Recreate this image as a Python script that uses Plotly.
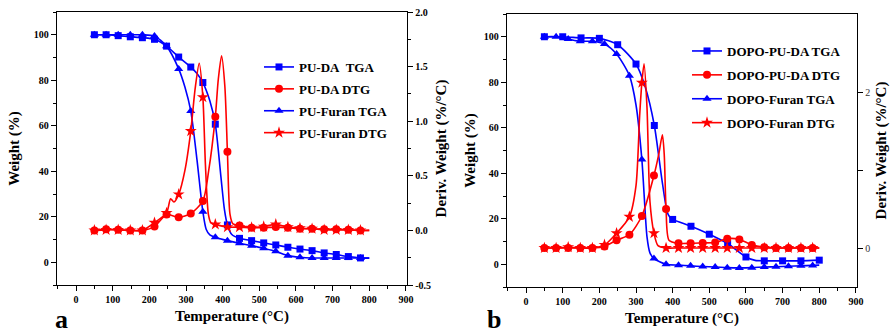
import plotly.graph_objects as go

BLUE = "#0000FF"
RED = "#FF0000"
FONT = "Liberation Serif"

# ---------------- Panel a data ----------------
temp_a = [50, 82, 115, 148, 181, 214, 247, 280, 313, 346, 380, 413,
          446, 479, 512, 545, 578, 611, 644, 677, 710, 743, 776]
pu_da_tga = [100, 100, 99.6, 99.1, 98.7, 98, 95, 90.2, 85.8, 79, 60.7, 16.4,
             10.5, 9.5, 8.5, 7.6, 6.6, 5.8, 5.1, 4.1, 3.4, 2.5, 1.9]
pu_da_tga_xt = [330, 365, 395, 405, 425, 800]
pu_da_tga_xv = [83, 71, 38, 23, 12.2, 1.8]

pu_furan_tga = [100, 100, 100, 100, 100, 99.4, 95, 85, 66.5, 22.2, 11, 9.5,
                8.3, 7.3, 6.1, 4.8, 2.9, 2.2, 1.9, 1.9, 1.9, 1.9, 1.9]
pu_furan_tga_xt = [297, 330, 355, 365, 800]
pu_furan_tga_xv = [77, 45, 14.5, 12, 1.9]

pu_da_dtg = [0, 0.01, 0.005, 0, 0, 0.035, 0.145, 0.12, 0.155, 0.27, 1.04, 0.72,
             0.045, 0.025, 0.025, 0.03, 0.025, 0.015, 0.015, 0.01, 0.01, 0.005, 0]
pu_da_dtg_xt = [362, 388, 397, 406, 420, 428, 800]
pu_da_dtg_xv = [0.55, 1.38, 1.6, 1.32, 0.15, 0.06, 0]

pu_furan_dtg = [0, 0.005, 0.005, 0, 0, 0.07, 0.16, 0.33, 0.91, 1.22, 0.055, 0.03,
                0.03, 0.025, 0.035, 0.055, 0.03, 0.02, 0.015, 0.005, 0.005, 0.005, 0]
pu_furan_dtg_xt = [258, 267, 297, 325, 336, 353, 361, 368, 800]
pu_furan_dtg_xv = [0.29, 0.26, 0.55, 1.3, 1.53, 0.6, 0.15, 0.07, 0]

# ---------------- Panel b data ----------------
temp_b33 = [50, 82, 115, 148, 181, 214, 247, 282, 316, 349, 382, 416,
            449, 482, 516, 549, 582, 616, 650, 682, 716, 750, 782]
temp_b50 = [50, 100, 150, 200, 250, 300, 350, 400, 450, 500, 550, 600,
            650, 700, 750, 800]

dopo_pu_da_tga = [100, 100, 99.5, 99.3, 96.5, 88, 61, 19.7, 16.7, 13.2, 9.1, 3.2,
                  1.5, 1.5, 1.5, 1.8]
dopo_pu_da_tga_xt = [325, 370, 385, 392, 625]
dopo_pu_da_tga_xv = [78, 38, 23, 20.8, 1.7]

dopo_furan_tga = [100, 100, 99, 98, 98, 96.8, 92.4, 82.9, 46, 2.5, 0, -0.4,
                  -0.7, -1, -1.2, -1.5, -1.6, -1.5, -1.2, -1.1, -0.9, -0.7, -0.5]
dopo_furan_tga_xt = [300, 330, 338, 800]
dopo_furan_tga_xv = [70, 12, 5, -0.4]

dopo_pu_da_dtg = [0, 0, 0, 0, 0, 0.02, 0.1, 0.17, 0.41, 0.93, 0.5, 0.06,
                  0.06, 0.065, 0.07, 0.12, 0.11, 0.04, 0.01, 0, 0, 0, 0]
dopo_pu_da_dtg_xt = [362, 372, 377, 390, 800]
dopo_pu_da_dtg_xv = [1.2, 1.45, 1.2, 0.1, 0]

dopo_furan_dtg = [0, 0, 0.01, 0, 0, 0.04, 0.19, 0.4, 2.12, 0.19, 0, 0,
                  0, 0, 0, 0, 0, 0, 0, 0, 0, 0, 0]
dopo_furan_dtg_xt = [300, 310, 322, 330, 338, 360, 800]
dopo_furan_dtg_xv = [0.8, 1.7, 2.36, 1.8, 0.6, 0.03, 0]


def merged(t, v, xt, xv):
    pts = sorted(list(zip(t, v)) + list(zip(xt, xv)))
    return [p[0] for p in pts], [p[1] for p in pts]


fig = go.Figure()


def add_series(name, t, v, xt, xv, color, symbol, msize, xaxis, yaxis, legend):
    lx, ly = merged(t, v, xt, xv)
    fig.add_trace(go.Scatter(x=lx, y=ly, mode="lines", xaxis=xaxis, yaxis=yaxis,
                             line=dict(color=color, width=1.6, shape="spline", smoothing=0.7),
                             showlegend=False, hoverinfo="skip", legendgroup=name))
    fig.add_trace(go.Scatter(x=t, y=v, mode="markers", xaxis=xaxis, yaxis=yaxis,
                             marker=dict(color=color, symbol=symbol, size=msize),
                             showlegend=False, legendgroup=name))
    fig.add_trace(go.Scatter(x=[None], y=[None], mode="lines+markers", name=name,
                             xaxis=xaxis, yaxis=yaxis, legend=legend, legendgroup=name,
                             line=dict(color=color, width=1.6),
                             marker=dict(color=color, symbol=symbol, size=msize)))


add_series("PU-DA\u00a0 TGA", temp_a, pu_da_tga, pu_da_tga_xt, pu_da_tga_xv,
           BLUE, "square", 7, "x", "y", "legend")
add_series("PU-DA DTG", temp_a, pu_da_dtg, pu_da_dtg_xt, pu_da_dtg_xv,
           RED, "circle", 8, "x", "y2", "legend")
add_series("PU-Furan TGA", temp_a, pu_furan_tga, pu_furan_tga_xt, pu_furan_tga_xv,
           BLUE, "triangle-up", 8, "x", "y", "legend")
add_series("PU-Furan DTG", temp_a, pu_furan_dtg, pu_furan_dtg_xt, pu_furan_dtg_xv,
           RED, "star", 9, "x", "y2", "legend")

add_series("DOPO-PU-DA TGA", temp_b50, dopo_pu_da_tga, dopo_pu_da_tga_xt, dopo_pu_da_tga_xv,
           BLUE, "square", 7, "x2", "y3", "legend2")
add_series("DOPO-PU-DA DTG", temp_b33, dopo_pu_da_dtg, dopo_pu_da_dtg_xt, dopo_pu_da_dtg_xv,
           RED, "circle", 8, "x2", "y4", "legend2")
add_series("DOPO-Furan TGA", temp_b33, dopo_furan_tga, dopo_furan_tga_xt, dopo_furan_tga_xv,
           BLUE, "triangle-up", 8, "x2", "y3", "legend2")
add_series("DOPO-Furan DTG", temp_b33, dopo_furan_dtg, dopo_furan_dtg_xt, dopo_furan_dtg_xv,
           RED, "star", 9, "x2", "y4", "legend2")

W, H = 895, 333
tickf = dict(family=FONT, size=10, color="black", weight="bold")
titlef = dict(family=FONT, size=15, color="black", weight="bold")

def xax(dom, anchor):
    return dict(domain=dom, anchor=anchor, range=[-52, 903], dtick=100, tick0=0,
                automargin=False,
                showline=True, linecolor="black", linewidth=1.3, mirror=True,
                ticks="outside", ticklen=5, tickwidth=1.2, tickcolor="black",
                minor=dict(dtick=50, ticks="outside", ticklen=3, tickcolor="black", tickwidth=1),
                showgrid=False, zeroline=False, tickfont=tickf,
                title=dict(text="Temperature (°C)", font=titlef, standoff=6))

def yleft(dom, anchor, standoff):
    return dict(domain=dom, anchor=anchor, range=[-10, 110], tickvals=[0, 20, 40, 60, 80, 100],
                automargin=False,
                showline=True, linecolor="black", linewidth=1.3,
                ticks="outside", ticklen=5, tickwidth=1.2, tickcolor="black",
                minor=dict(tickvals=[-10, 10, 30, 50, 70, 90, 110], ticks="outside", ticklen=3,
                           tickcolor="black", tickwidth=1),
                showgrid=False, zeroline=False, tickfont=tickf,
                title=dict(text="Weight (%)", font=titlef, standoff=standoff))

ya = [1 - 285 / H, 1 - 12 / H]
yb = [1 - 287 / H, 1 - 14 / H]

legfont = dict(family=FONT, size=13, color="black", weight="bold")

fig.update_layout(
    width=W, height=H, margin=dict(l=0, r=0, t=0, b=0),
    paper_bgcolor="white", plot_bgcolor="white",
    font=dict(family=FONT, color="black"),
    xaxis=xax([57 / W, 407 / W], "y"),
    yaxis=yleft(ya, "x", 10),
    yaxis2=dict(overlaying="y", side="right", anchor="x", range=[-0.5, 2.0],
                automargin=False,
                tickvals=[-0.5, 0, 0.5, 1.0, 1.5, 2.0],
                ticktext=["-0.5", "0.0", "0.5", "1.0", "1.5", "2.0"],
                showline=True, linecolor="black", linewidth=1.3,
                ticks="outside", ticklen=5, tickwidth=1.2, tickcolor="black",
                minor=dict(tickvals=[-0.25, 0.25, 0.75, 1.25, 1.75], ticks="outside", ticklen=3,
                           tickcolor="black", tickwidth=1),
                showgrid=False, zeroline=False, tickfont=tickf,
                title=dict(text="Deriv. Weight (%/°C)", font=titlef, standoff=5)),
    xaxis2=xax([507 / W, 857 / W], "y3"),
    yaxis3=yleft(yb, "x2", 4),
    yaxis4=dict(overlaying="y3", side="right", anchor="x2", range=[-0.5, 3.0],
                automargin=False,
                tickvals=[0, 1, 2], ticktext=["0", "", "2"],
                showline=True, linecolor="black", linewidth=1.3,
                ticks="outside", ticklen=5, tickwidth=1.2, tickcolor="black",
                showgrid=False, zeroline=False,
                tickfont=dict(family=FONT, size=10, color="#333333"),
                title=dict(text="Deriv. Weight (%/°C)", font=titlef, standoff=6)),
    legend=dict(x=259 / W, y=1 - 52 / H, xanchor="left", yanchor="top",
                font=legfont, traceorder="grouped",
                bgcolor="rgba(0,0,0,0)", itemwidth=30, tracegroupgap=2),
    legend2=dict(x=687 / W, y=1 - 36 / H, xanchor="left", yanchor="top",
                 font=legfont, traceorder="grouped",
                 bgcolor="rgba(0,0,0,0)", itemwidth=30, tracegroupgap=4),
    annotations=[
        dict(text="a", x=53 / W, y=0, xanchor="left", yanchor="bottom", yshift=-3,
             xref="paper", yref="paper", showarrow=False,
             font=dict(family=FONT, size=26, color="black", weight="bold")),
        dict(text="b", x=485 / W, y=0, xanchor="left", yanchor="bottom", yshift=-3,
             xref="paper", yref="paper", showarrow=False,
             font=dict(family=FONT, size=26, color="black", weight="bold")),
    ],
)

fig.write_html("out.html", config={"displayModeBar": False},
               post_script="document.body.style.margin='0px';document.body.style.overflow='hidden';")
